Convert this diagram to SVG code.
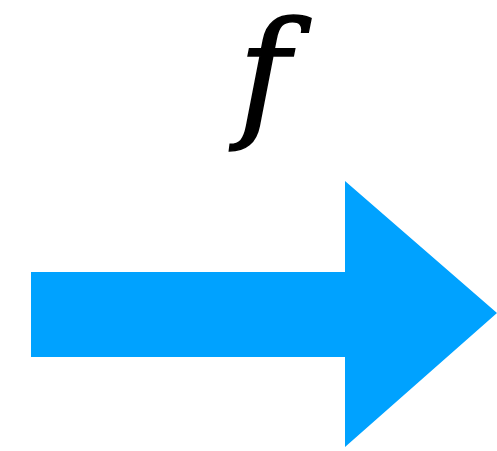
<svg xmlns="http://www.w3.org/2000/svg" width="497" height="451" viewBox="0 0 497 451">
<style>
.lbl{font-family:"DejaVu Serif","Liberation Serif",serif;font-style:italic;fill:#000;stroke:#000;stroke-width:1.5}
.arrow{fill:#00A2FF}
</style>
<g id="label-f"><text class="lbl" x="264" y="122" font-size="141" text-anchor="middle">f</text></g>
<g id="connectors">
<polygon class="arrow" points="31,272 345,272 345,181 497,313 345,447 345,357 31,357"/>
</g>
</svg>
